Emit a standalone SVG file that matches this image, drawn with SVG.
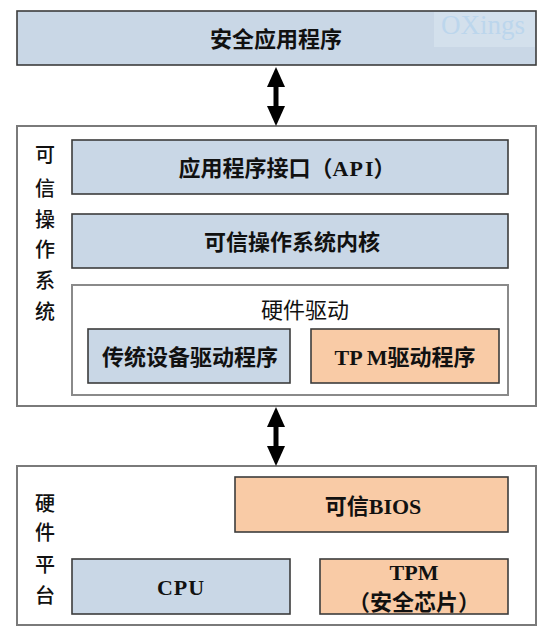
<svg xmlns="http://www.w3.org/2000/svg" width="554" height="639" viewBox="0 0 554 639">
<style>
  .bg{fill:#ffffff}
  .outer{fill:#ffffff;stroke:#7a7a7a;stroke-width:2}
  .inner{fill:#ffffff;stroke:#8a8a8a;stroke-width:2}
  .blue{fill:#c9d7e6;stroke:#3c3c3c;stroke-width:1.6}
  .orange{fill:#f9cba6;stroke:#3c3c3c;stroke-width:1.6}
  .t{font-family:"Liberation Serif","Noto Sans CJK SC",serif;font-weight:bold;font-size:22px;fill:#111;text-anchor:middle;dominant-baseline:central}
  .lbl{font-family:"Noto Sans CJK SC","Noto Sans",sans-serif;font-weight:500;font-size:20px;fill:#111;text-anchor:middle;dominant-baseline:central}
  .sub{font-family:"Noto Sans CJK SC","Noto Sans",sans-serif;font-size:22px;fill:#111;text-anchor:middle;dominant-baseline:central}
  .arrow{stroke:#000;stroke-width:5;fill:none;marker-start:url(#ah);marker-end:url(#ah)}
  .wm{font-family:"Liberation Serif",serif;font-size:27px;fill:#bcd6ec}
</style>
<defs>
  <marker id="ah" markerUnits="userSpaceOnUse" markerWidth="20" markerHeight="20" viewBox="0 0 20 20" refX="10" refY="10" orient="auto-start-reverse">
    <path d="M0,1 L20,10 L0,19 z" fill="#000"/>
  </marker>
</defs>
<rect class="bg" x="0" y="0" width="554" height="639"/>

<g id="app">
  <rect class="blue" x="17" y="11" width="519" height="54"/>
  <text class="t" x="276" y="39">安全应用程序</text>
  <rect x="434" y="12" width="101" height="35" fill="#d6e2ee" opacity="0.8"/>
  <text class="wm" x="441" y="34">OXings</text>
</g>

<g id="trusted-os">
  <rect class="outer" x="17" y="126" width="519" height="280"/>
  <text class="lbl" x="45" y="153">可</text>
  <text class="lbl" x="45" y="187">信</text>
  <text class="lbl" x="45" y="218">操</text>
  <text class="lbl" x="45" y="248">作</text>
  <text class="lbl" x="45" y="279">系</text>
  <text class="lbl" x="45" y="310">统</text>
</g>

<g id="api">
  <rect class="blue" x="72" y="140" width="436" height="54"/>
  <text class="t" x="287" y="168">应用程序接口（A<tspan dx="1">P</tspan><tspan dx="2">I</tspan>）</text>
</g>

<g id="kernel">
  <rect class="blue" x="72" y="214" width="436" height="54"/>
  <text class="t" x="292" y="242">可信操作系统内核</text>
</g>

<g id="hw-driver">
  <rect class="inner" x="72" y="285" width="436" height="110"/>
  <text class="sub" x="305" y="308">硬件驱动</text>
</g>

<g id="legacy-driver">
  <rect class="blue" x="88" y="329" width="202" height="54"/>
  <text class="t" x="190" y="357">传统设备驱动程序</text>
</g>

<g id="tpm-driver">
  <rect class="orange" x="311" y="329" width="188" height="54"/>
  <text class="t" x="405" y="357">TP<tspan dx="4">M</tspan>驱动程序</text>
</g>

<g id="hw-platform">
  <rect class="outer" x="17" y="466" width="519" height="159"/>
  <text class="lbl" x="45" y="502">硬</text>
  <text class="lbl" x="45" y="531">件</text>
  <text class="lbl" x="45" y="563">平</text>
  <text class="lbl" x="45" y="594">台</text>
</g>

<g id="bios">
  <rect class="orange" x="235" y="477" width="273" height="55"/>
  <text class="t" x="373" y="506">可信BIOS</text>
</g>

<g id="cpu">
  <rect class="blue" x="72" y="559" width="218" height="55"/>
  <text class="t" x="181" y="587" letter-spacing="1">CPU</text>
</g>

<g id="tpm">
  <rect class="orange" x="320" y="559" width="188" height="55"/>
  <text class="t" x="414" y="572">TPM</text>
  <text class="t" x="414" y="602">（安全芯片）</text>
</g>

<g id="connectors">
  <line class="arrow" x1="276" y1="77" x2="276" y2="116"/>
  <line class="arrow" x1="276" y1="417" x2="276" y2="456"/>
</g>
</svg>
